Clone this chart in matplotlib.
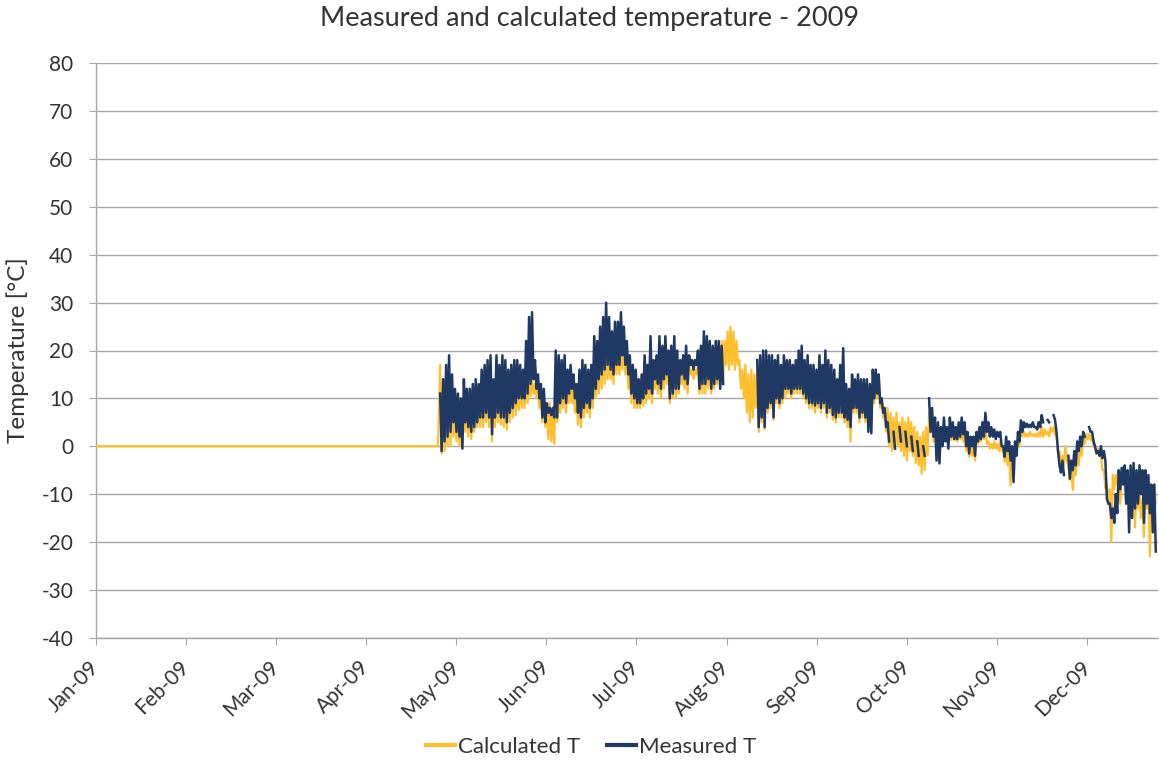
import matplotlib
matplotlib.use('Agg')
import matplotlib.pyplot as plt
import numpy as np
from matplotlib.lines import Line2D

N = None

month_labels = ['Jan-09', 'Feb-09', 'Mar-09', 'Apr-09', 'May-09', 'Jun-09',
                'Jul-09', 'Aug-09', 'Sep-09', 'Oct-09', 'Nov-09', 'Dec-09']

# calculated T is zero before the logger was installed
calc_flat_days = [0, 115.5]
calc_flat_vals = [0, 0]

# daily values from day 116 (late April) to day 357
first_day = 116

meas_hi = [
    11, 14, 17, 19, 15, 12, 11, 10, 14, 12,
    12, 13, 14, 13, 16, 17, 18, 19, 14, 19,
    17, 19, 18, 16, 17, 18, 18, 17, 16, 22,
    27, 28, 18, 15, 13, 12, 9, 8, 8, 20,
    19, 18, 19, 16, 17, 15, 13, 16, 18, 17,
    16, 17, 23, 22, 25, 27, 30, 27, 24, 26,
    26, 28, 25, 22, 19, 17, 16, 14, 15, 19,
    17, 23, 18, 19, 23, 21, 23, 20, 21, 23,
    20, 18, 19, 21, 19, 18, 18, 20, 21, 24,
    23, 22, 21, 22, 22, 21, N, N, N, N,
    N, N, N, N, N, N, N, 18, 19, 20,
    20, 19, 19, 18, 19, 17, 19, 18, 18, 17,
    18, 20, 21, 18, 19, 17, 17, 16, 19, 17,
    20, 18, 17, 16, 14, 17, 20.5, 13, 12, 15,
    14, 15, 14, 14, 14, 13, 16, 16, 15, 10,
    8, 5, N, 3, N, 4, N, 3, N, 2,
    N, 1, N, 0, N, 10, 8, 6, 5, 4,
    6, 4, 6, 5, 4, 5, 6, 5, 3, 2,
    2, 3, 4, 5, 7, 5, 4, 3.5, 3, 3,
    0, 2, 1, 0, 1, 3, 5.4, 5, 4.7, 4.5,
    5, 4, 5, 6.5, N, 5.5, N, 6.5, 3, -4,
    -3, N, -2, -3, -1, 1, 2, 3, N, 4,
    3, 0, -1, 0, -1, -11, -12, -13, -10, -5,
    -4.5, -4, -5, -4, -3.5, -5, -4, -5, -5, -6,
    -8, -8,
]

meas_lo = [
    -1, 1, 2, 3, 5, 3, 2, -0.5, 5, 4,
    3, 4, 5, 6, 6, 7, 6, 2.5, 6, 7,
    6, 6, 5, 7, 8, 9, 10, 10, 10, 11,
    13, 14, 12, 10, 6, 5, 7, 6.5, 6, 6,
    9, 10, 9, 11, 12, 10, 7, 6, 8, 9,
    8, 10, 12, 14, 15, 16, 17, 16, 15, 17,
    17, 19, 17, 15, 11, 10, 9, 9, 10, 11,
    12, 11, 14, 13, 12, 14, 15, 10, 11, 12,
    12, 15, 14, 13, 17, 16, 17, 12, 13, 13,
    14, 12, 13, 14, 12, 13, N, N, N, N,
    N, N, N, N, N, N, N, 4, 6, 4,
    8, 9, 6, 10, 9, 10, 12, 12, 11, 12,
    12, 12, 11, 10, 9, 9, 8.5, 9, 8, 9,
    7, 8, 6.5, 6, 7, 7, 6, 5.5, 4, 8,
    8, 6, 7, 6, 3, 2.7, 10, 11, 9, 7,
    4, 1, N, -0.5, N, 1, N, 0, N, -1,
    N, -2, N, -2, N, 3, 2, -3, -3.6, 0,
    1, -0.5, 2, 1.5, 1.5, 2, 2.5, 0, -1.5, 0,
    -2, 1, 1.5, 2, 3, 2, 2, 1.5, 2, 0,
    -2.2, -1, -3, -7.5, -2, 1, 3, 4, 4, 4,
    4, 3.5, 4, 5, N, 5, N, 5.5, -1, -5.5,
    -6, N, -6.8, -5, -4, -1, 0, 2, N, 3,
    1, -1.5, -2, -2.5, -3, -12, -15, -16, -14, -9,
    -8, -12, -18, -15, -13, -12, -10, -16, -12, -14,
    -18, -22,
]

calc_hi = [
    17, 12, 14, 16, 13, 10, 9, 8, 11, 10,
    10, 11, 12, 11, 13, 14, 15, 16, 12, 16,
    14, 16, 15, 14, 15, 15, 15, 14, 13, 17,
    13, 14, 13, 12, 10, 9, 8, 9, 7, 15,
    15, 14, 16, 14, 14, 12, 10, 13, 15, 14,
    13, 14, 18, 17, 20, 22, 24, 22, 20, 21,
    21, 23, 21, 18, 16, 14, 13, 12, 13, 16,
    15, 19, 16, 17, 19, 18, 20, 17, 18, 19,
    17, 16, 17, 18, 17, 16, 16, 17, 18, 20,
    20, 19, 18, 20, 21, 22, 22, 24, 25, 24,
    22, 18, 16, 17, 15, 16, 15, 16, 17, 17,
    18, 17, 16, 16, 17, 15, 17, 16, 16, 16,
    17, 18, 20, 17, 17, 16, 16, 15, 17, 16,
    18, 17, 16, 15, 13, 16, 20, 12, 11, 14,
    13, 14, 13, 13, 13, 12, 15, 16, 14, 10,
    8, 8, 7, 6, 7, 5, 6, 5, 6, 5,
    4, 3, 2, 3, 4, 7, 5, 4, 2, 3,
    3, 3, 2.5, 3, 2, 2.5, 3, 2, 1.5, 1,
    1, 1.5, 2, 4.5, 4, 1, 0.5, 1, 0.5, 1,
    -1, 0, -1, -1, 0, 2, 3.5, 3, 2.6, 3,
    2.5, 2.6, 3, 4, 3.5, 3, 4, 4, 2, -1,
    -2, 0, -4, -5, -4, -1, 1, 2, 2.6, 2.5,
    2, -0.5, -0.5, -2, -5, -8, -9, -6, -6, -6,
    -6, -7, -6, -8, -9, -8, -10, -11, -7, -9,
    -10, -8,
]

calc_lo = [
    -1.5, -1, 0, 0, 2, 1, 0, 0.5, 3, 2,
    1.5, 3, 4, 4, 4, 5, 4, 1, 4, 5,
    4.5, 4, 3.5, 5, 6, 6.5, 7.5, 8, 8, 9,
    10.5, 11, 10, 8, 5, 4, 1.5, 1, 0.5, 5,
    7, 8, 7, 9, 9, 7, 4.5, 4, 6, 7,
    6, 8, 10, 11, 12, 13, 14, 14, 13, 15,
    15, 16, 15, 12, 9, 8, 8, 8, 8.5, 9,
    10, 9, 12, 11, 10, 12, 13, 9, 10, 10,
    11, 13, 12, 11, 15, 14, 15, 11, 11, 11,
    12, 11, 12, 13, 12, 14, 17, 16, 17, 16,
    17, 12, 10, 7, 5, 6, 8, 3, 5, 3.5,
    7, 8, 5.5, 9, 8, 9, 10, 11, 10, 11,
    11, 11, 10, 9, 8, 8, 7, 8, 7, 8,
    6, 7, 5.5, 5, 6, 6, 5, 4, 1, 7,
    7, 5, 6, 5, 4, 4.4, 9, 10, 8, 6,
    3, 0, -1, -0.5, 0, -1, -2, -3, -1, -2,
    -3.5, -4, -5.7, -5, -2, 3, 1, -2, -1, 1,
    1.5, 0.5, 1.3, 1.3, 1, 1.5, 1, -1, -2.2, -2,
    -3, 0.5, 1, 1.5, 0.5, -0.5, -0.5, -0.5, -1, -1,
    -3.3, -4, -8.2, -4, -2, 0, 2, 2, 2, 2.2,
    2, 2, 2, 2, 2.5, 2, 3, 2.5, -1, -5,
    -4, -3, -7, -9.2, -6, -4, -2, 0.5, 1.5, 1.3,
    0, -1.5, -2, -5, -8.8, -12, -20, -9, -8, -12,
    -8, -11, -12, -10, -17, -13, -15, -19, -13, -23,
    -16, -12,
]


def zigzag(start, hi, lo):
    # two readings per day: daytime high, then night-time low
    t, v = [], []
    for i, (h, l) in enumerate(zip(hi, lo)):
        d = start + i
        t += [d + 0.25, d + 0.75]
        v += [h, l]
    return np.array(t), np.array(v, dtype=float)


def main():
    plt.rcParams['font.family'] = ['Lato', 'DejaVu Sans']
    plt.rcParams['axes.unicode_minus'] = False
    text_col = '#333333'
    grid_col = '#a6a6a6'
    calc_col = '#ffbe2b'
    meas_col = '#1f3864'

    fig = plt.figure(figsize=(11.59, 7.6), dpi=100)
    ax = fig.add_axes([95.7 / 1159, 1 - 637.7 / 760, (1158 - 95.7) / 1159, (637.7 - 63.3) / 760])

    ct, cv = zigzag(first_day, calc_hi, calc_lo)
    ct = np.concatenate([calc_flat_days, ct])
    cv = np.concatenate([calc_flat_vals, cv])
    mt, mv = zigzag(first_day, meas_hi, meas_lo)

    ax.plot(ct, cv, color=calc_col, lw=1.6, zorder=3)
    ax.plot(mt, mv, color=meas_col, lw=1.8, zorder=4)

    ax.set_ylim(-40, 80)
    ax.set_yticks(range(-40, 81, 10))
    ax.set_xlim(0, 358.5)
    ax.set_xticks([k * 365 / 12 for k in range(12)])
    ax.set_xticklabels(month_labels, rotation=45, ha='right', va='center', rotation_mode='anchor')

    ax.yaxis.grid(True, color=grid_col, lw=1.0)
    ax.set_axisbelow(True)
    for s in ('top', 'right'):
        ax.spines[s].set_visible(False)
    for s in ('left', 'bottom'):
        ax.spines[s].set_color(grid_col)
        ax.spines[s].set_linewidth(1.0)
    ax.tick_params(axis='y', direction='out', length=5, color=grid_col, labelsize=15, labelcolor=text_col, pad=11)
    ax.tick_params(axis='x', direction='out', length=5, color=grid_col, labelsize=15, labelcolor=text_col, pad=14)

    ax.set_ylabel('Temperature [°C]', fontsize=17.5, color=text_col)
    ax.yaxis.set_label_coords(-0.063, 0.5)
    fig.suptitle('Measured and calculated temperature - 2009', fontsize=19.5, color=text_col, x=0.509, y=0.992)

    handles = [Line2D([], [], color=calc_col, lw=3), Line2D([], [], color=meas_col, lw=3)]
    fig.legend(handles, ['Calculated T', 'Measured T'], loc='lower center', bbox_to_anchor=(0.51, -0.022),
               ncol=2, frameon=False, fontsize=16, handlelength=1.3, handletextpad=0.15,
               columnspacing=1.2, labelcolor=text_col)

    fig.savefig('out.png', dpi=100)


if __name__ == '__main__':
    main()
